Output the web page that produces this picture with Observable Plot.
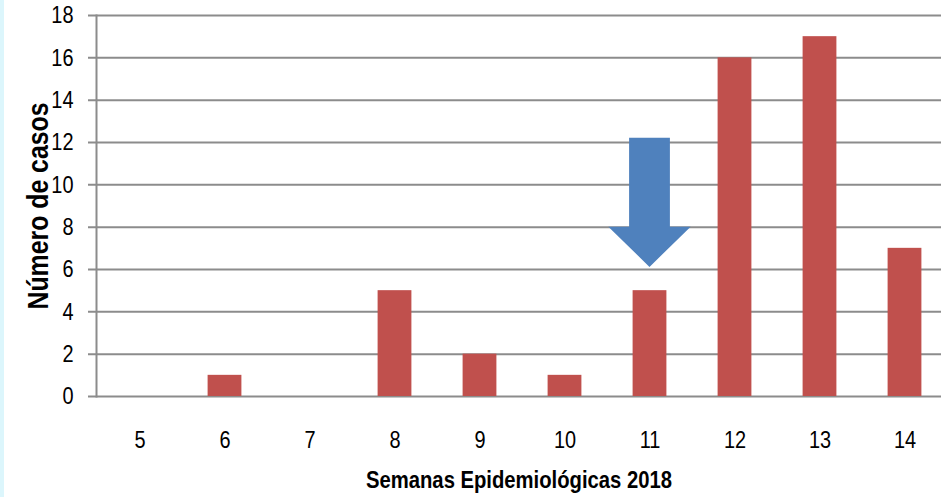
<!DOCTYPE html>
<html><head><meta charset="utf-8">
<script src="https://cdn.jsdelivr.net/npm/d3@7"></script>
<script src="https://cdn.jsdelivr.net/npm/@observablehq/plot@0.6"></script>
<style>
body{margin:0;background:#fff;}
#wrap{position:relative;width:941px;height:497px;overflow:hidden;background:#fff;}
#strip{position:absolute;left:0;top:0;width:4px;height:497px;background:#dcf6fc;z-index:2;}
</style></head><body>
<div id="wrap"><div id="strip"></div><div id="chart"></div></div>
<script>
const weeks = ["5","6","7","8","9","10","11","12","13","14"];
const cases = [0, 1, 0, 5, 2, 1, 5, 16, 17, 7];
const yTicks = [0, 2, 4, 6, 8, 10, 12, 14, 16, 18];
const xTitle = "Semanas Epidemiológicas 2018";
const yTitle = "Número de casos";
const arrowWeek = "11";
const arrowTop = 12.2;
const arrowNeck = 8.0;
const arrowTip = 6.1;

const data = weeks.map((w, i) => ({week: w, cases: cases[i]}));

function arrowMark(index, scales, values, dimensions, context) {
  const sx = scales.x, sy = scales.y;
  const bw = typeof sx.bandwidth === "function" ? sx.bandwidth() : 85;
  const cx = sx(arrowWeek) + bw / 2;
  const sw = bw * 0.24, hw = bw * 0.484;
  const yT = sy(arrowTop), yN = sy(arrowNeck), yP = sy(arrowTip);
  const pts = [[cx - sw, yT], [cx + sw, yT], [cx + sw, yN], [cx + hw, yN], [cx, yP], [cx - hw, yN], [cx - sw, yN]];
  const path = document.createElementNS("http://www.w3.org/2000/svg", "path");
  path.setAttribute("d", "M" + pts.map(p => p.join(",")).join("L") + "Z");
  path.setAttribute("fill", "#4f81bd");
  return path;
}

const chart = Plot.plot({
  width: 941,
  height: 497,
  marginTop: 15,
  marginBottom: 101,
  marginLeft: 96,
  marginRight: 0,
  style: {
    fontFamily: "'Liberation Sans', Arial, sans-serif",
    fontSize: "24px",
    color: "#000",
    background: "#fff",
    overflow: "visible"
  },
  x: {domain: weeks, range: [96, 948], padding: 0},
  y: {domain: [0, 18]},
  marks: [
    Plot.ruleY(yTicks, {stroke: "#8c8c8c", strokeWidth: 2, insetLeft: -8}),
    Plot.frame({anchor: "left", stroke: "#8c8c8c", strokeWidth: 2}),
    Plot.barY(data, {x: "week", y: "cases", fill: "#c0504d", insetLeft: 25.6, insetRight: 25.6}),
    arrowMark,
    Plot.axisY({ticks: yTicks, tickSize: 0, tickPadding: 23, label: null}),
    Plot.axisX({tickSize: 0, tickPadding: 34, label: null}),
    Plot.text([xTitle], {text: d => d, frameAnchor: "bottom", textAnchor: "middle", dy: 91, lineAnchor: "bottom", fontSize: 24, fontWeight: "bold"}),
    Plot.text([yTitle], {text: d => d, frameAnchor: "left", textAnchor: "middle", rotate: -90, dx: -49, lineAnchor: "bottom", fontSize: 30, fontWeight: "bold"})
  ]
});
document.getElementById("chart").appendChild(chart);

// Emulate the condensed (narrow) typeface of the original chart
d3.select(chart).selectAll("text").each(function() {
  const t = d3.select(this);
  const content = this.textContent;
  let target;
  if (content === xTitle) target = 306;
  else if (content === yTitle) target = 207;
  else target = this.getComputedTextLength() * 0.83;
  t.attr("textLength", target).attr("lengthAdjust", "spacingAndGlyphs");
});
</script>
</body></html>
